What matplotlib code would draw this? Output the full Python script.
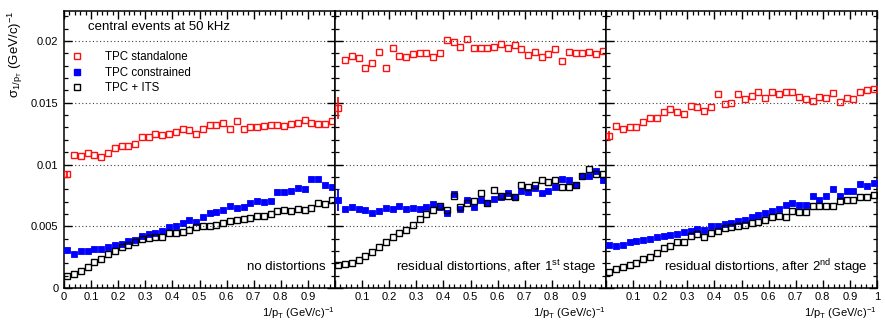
import numpy as np
import matplotlib
matplotlib.use('Agg')
import matplotlib.pyplot as plt
from matplotlib.ticker import MultipleLocator
from matplotlib.lines import Line2D

plt.rcParams['font.family'] = ['Liberation Sans', 'DejaVu Sans']
plt.rcParams['mathtext.default'] = 'regular'

# 40 bins in 1/pT from 0 to 1
n_bins = 40
x = (np.arange(n_bins) + 0.5) / n_bins

# panel 1: no distortions
red_1 = [0.0092, 0.0108, 0.0107, 0.0109, 0.0108, 0.0106, 0.0109, 0.0113, 0.0115, 0.0115,
         0.0117, 0.0122, 0.0122, 0.0125, 0.0124, 0.0125, 0.0126, 0.0129, 0.0128, 0.0125,
         0.0129, 0.0132, 0.0132, 0.0134, 0.0129, 0.0135, 0.0129, 0.0130, 0.0130, 0.0131,
         0.0132, 0.0132, 0.0131, 0.0133, 0.0134, 0.0136, 0.0134, 0.0133, 0.0133, 0.0135]
blue_1 = [0.00305, 0.00276, 0.00297, 0.00303, 0.00316, 0.00316, 0.00332, 0.00346, 0.0036, 0.00378,
          0.0039, 0.0042, 0.0044, 0.00446, 0.0046, 0.0049, 0.005, 0.00527, 0.0055, 0.00537,
          0.00577, 0.00605, 0.00618, 0.00632, 0.00664, 0.00645, 0.00659, 0.00686, 0.00707, 0.00699,
          0.00707, 0.0078, 0.0078, 0.00785, 0.00807, 0.008, 0.0088, 0.0088, 0.00834, 0.0082]
black_1 = [0.0010, 0.00113, 0.0014, 0.00173, 0.00213, 0.00232, 0.00275, 0.00302, 0.00329, 0.00348,
           0.0037, 0.00394, 0.00402, 0.0041, 0.00416, 0.00443, 0.00448, 0.0045, 0.0047, 0.00497,
           0.0050, 0.0050, 0.0051, 0.0053, 0.0054, 0.0055, 0.0056, 0.0057, 0.0058, 0.0058,
           0.0060, 0.0062, 0.0063, 0.0062, 0.0064, 0.0063, 0.0065, 0.0069, 0.0068, 0.0071]

# panel 2: after 1st stage
red_2 = [0.0146, 0.01846, 0.01881, 0.0186, 0.01779, 0.01819, 0.01908, 0.01784, 0.01946, 0.01881,
         0.01868, 0.01895, 0.019, 0.019, 0.01873, 0.019, 0.02008, 0.01995, 0.01949, 0.0202,
         0.0194, 0.0194, 0.0194, 0.01954, 0.01973, 0.0194, 0.01968, 0.01935, 0.01887, 0.01908,
         0.01868, 0.01892, 0.01935, 0.01838, 0.01908, 0.019, 0.019, 0.01914, 0.01892, 0.01919]
blue_2 = [0.00713, 0.0064, 0.00659, 0.0064, 0.00632, 0.00605, 0.00626, 0.0065, 0.00637, 0.00664,
          0.00637, 0.00645, 0.00637, 0.00659, 0.00678, 0.00659, 0.0061, 0.00759, 0.00637, 0.00713,
          0.00659, 0.00713, 0.00686, 0.00721, 0.0074, 0.00767, 0.0074, 0.00785, 0.0078, 0.00807,
          0.00767, 0.00788, 0.00815, 0.00883, 0.00874, 0.00834, 0.00909, 0.00909, 0.0095, 0.00874]
black_2 = [0.00186, 0.00194, 0.00205, 0.00227, 0.00259, 0.00294, 0.00335, 0.00375, 0.0041, 0.00443,
           0.0047, 0.0051, 0.00559, 0.00597, 0.00632, 0.00664, 0.00632, 0.00748, 0.00659, 0.00686,
           0.00704, 0.00767, 0.00691, 0.00794, 0.00748, 0.00748, 0.00734, 0.00834, 0.0082, 0.00834,
           0.00874, 0.00861, 0.00874, 0.00815, 0.0082, 0.00834, 0.00907, 0.00964, 0.00923, 0.0092]

# panel 3: after 2nd stage
red_3 = [0.01231, 0.01312, 0.01285, 0.01306, 0.01306, 0.01341, 0.01374, 0.01374, 0.01428, 0.01447,
         0.01428, 0.01406, 0.01474, 0.01468, 0.01436, 0.01468, 0.01568, 0.01489, 0.01501, 0.01568,
         0.0153, 0.01555, 0.0159, 0.01541, 0.01585, 0.01571, 0.01585, 0.0159, 0.01545, 0.0153,
         0.01514, 0.01545, 0.01536, 0.01576, 0.01509, 0.01541, 0.0153, 0.01585, 0.01603, 0.01609]
blue_3 = [0.0035, 0.0034, 0.0035, 0.0037, 0.0038, 0.0039, 0.0040, 0.0041, 0.0042, 0.0043,
          0.0044, 0.0045, 0.0046, 0.0048, 0.0047, 0.0050, 0.0050, 0.0052, 0.0053, 0.0054,
          0.0055, 0.00572, 0.00591, 0.00605, 0.00626, 0.00637, 0.00672, 0.00686, 0.00672, 0.00672,
          0.00745, 0.00713, 0.00745, 0.00799, 0.00745, 0.00788, 0.00788, 0.00842, 0.00829, 0.00848]
black_3 = [0.00132, 0.00151, 0.00167, 0.00186, 0.00205, 0.00232, 0.00254, 0.00286, 0.00321, 0.00343,
           0.0037, 0.0037, 0.00421, 0.00437, 0.00416, 0.00448, 0.00464, 0.00483, 0.00497, 0.00505,
           0.0051, 0.00529, 0.00537, 0.0055, 0.00572, 0.00583, 0.00578, 0.00626, 0.00618, 0.00618,
           0.00664, 0.00664, 0.00664, 0.00664, 0.00707, 0.00713, 0.00713, 0.00734, 0.0074, 0.00753]

# error on the first bin only (others too small to see)
red_err0 = [0.0002, 0.0009, 0.0004]
blue_err0 = [0.0, 0.0009, 0.0]

red = [red_1, red_2, red_3]
blue = [blue_1, blue_2, blue_3]
black = [black_1, black_2, black_3]
notes = ['no distortions',
         'residual distortions, after 1$^{st}$ stage',
         'residual distortions, after 2$^{nd}$ stage']

tick_vals = np.round(np.arange(0, 1.01, 0.1), 1)
tick_txt = ['0', '0.1', '0.2', '0.3', '0.4', '0.5', '0.6', '0.7', '0.8', '0.9', '1']
shown = [tick_txt[:10] + [''], [''] + tick_txt[1:10] + [''], [''] + tick_txt[1:]]
y_vals = [0, 0.005, 0.01, 0.015, 0.02]
y_txt = ['0', '0.005', '0.01', '0.015', '0.02']

fig = plt.figure(figsize=(8.85, 3.21), dpi=100)
left, bottom = 64 / 885, 33 / 321
w, h = 271 / 885, 277 / 321

for i in range(3):
    ax = fig.add_axes([left + i * w, bottom, w, h])
    err_r = np.zeros(n_bins); err_r[0] = red_err0[i]
    err_b = np.zeros(n_bins); err_b[0] = blue_err0[i]
    ax.errorbar(x, red[i], yerr=err_r, fmt='s', ms=5, mfc='none', mec='#ff1010', mew=1.0,
                ecolor='#ff1010', elinewidth=1.3, capsize=0, zorder=3)
    ax.errorbar(x, blue[i], yerr=err_b, fmt='s', ms=4.6, mfc='#0000ff', mec='#0000ff', mew=0.6,
                ecolor='#0000ff', elinewidth=1.3, capsize=0, zorder=3)
    ax.plot(x, black[i], 's', ms=5, mfc='none', mec='black', mew=1.0, zorder=4)

    ax.set_xlim(0, 1)
    ax.set_ylim(0, 0.02243)
    ax.set_xticks(tick_vals)
    ax.set_xticklabels(shown[i])
    ax.xaxis.set_minor_locator(MultipleLocator(0.02))
    ax.set_yticks(y_vals)
    ax.yaxis.set_minor_locator(MultipleLocator(0.001))
    ax.grid(axis='y', which='major', ls=(0, (1, 2.2)), color='0.25', lw=0.8)
    ax.tick_params(which='both', direction='in', top=True, right=True, labelsize=8, colors='black')
    ax.tick_params(which='major', length=5.5, width=1, pad=3)
    ax.tick_params(which='minor', length=2.8, width=0.9)
    for s in ax.spines.values():
        s.set_linewidth(1.1)
    if i == 0:
        ax.set_yticklabels(y_txt)
        ax.tick_params(axis='y', pad=4)
        ax.set_ylabel('$\\sigma_{1/p_{T}}$ (GeV/c)$^{-1}$', loc='top', fontsize=9.5, labelpad=4)
    else:
        ax.tick_params(labelleft=False)
    ax.set_xlabel('1/p$_T$ (GeV/c)$^{-1}$', loc='right', fontsize=8, labelpad=2)
    ax.text(0.965, 0.076, notes[i], transform=ax.transAxes, ha='right', va='center', fontsize=9.5)

    if i == 0:
        ax.text(0.089, 0.942, 'central events at 50 kHz', transform=ax.transAxes,
                ha='left', va='center', fontsize=9.5)
        handles = [
            Line2D([], [], ls='none', marker='s', ms=5, mfc='none', mec='#ff1010', mew=1.0),
            Line2D([], [], ls='none', marker='s', ms=4.6, mfc='#0000ff', mec='#0000ff'),
            Line2D([], [], ls='none', marker='s', ms=5, mfc='none', mec='black', mew=1.0),
        ]
        ax.legend(handles, ['TPC standalone', 'TPC constrained', 'TPC + ITS'],
                  loc='upper left', bbox_to_anchor=(0.025, 0.855), frameon=False, fontsize=8.3,
                  handlelength=1.0, handletextpad=2.0, labelspacing=0.3,
                  borderpad=0, borderaxespad=0)

fig.savefig('out.png', dpi=100)
